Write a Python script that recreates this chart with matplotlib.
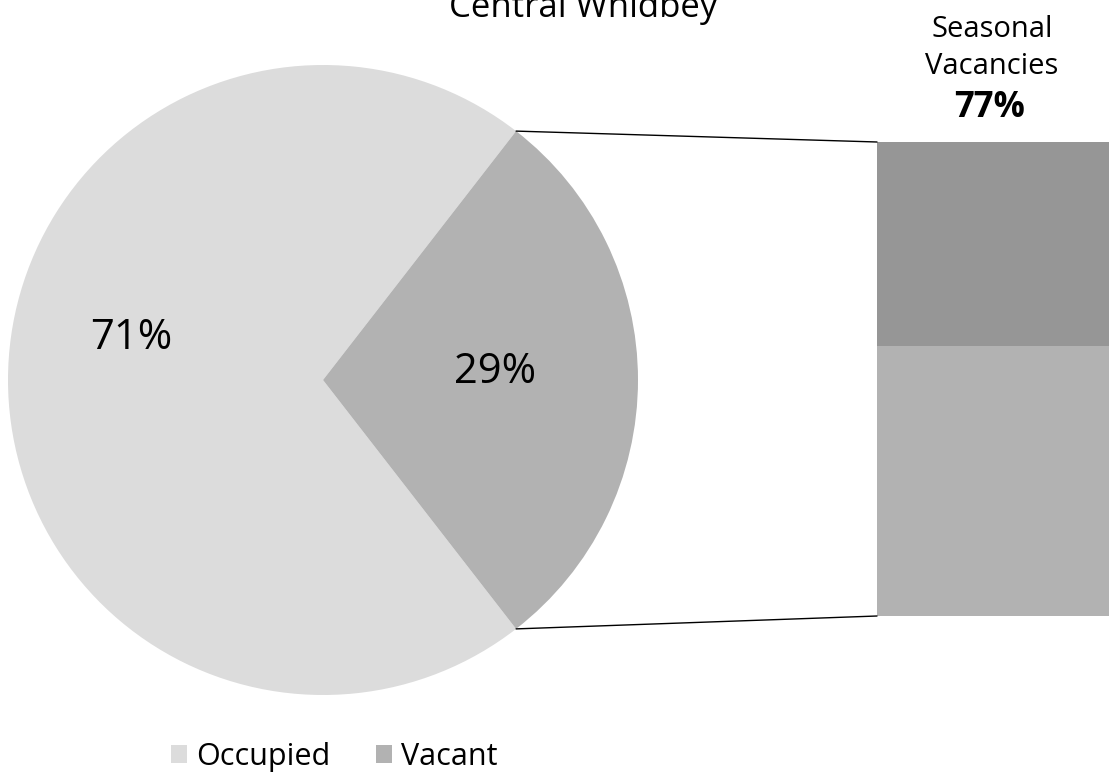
import matplotlib
matplotlib.use("Agg")
import matplotlib.pyplot as plt
from matplotlib.patches import ConnectionPatch, Patch
import numpy as np

plt.rcParams['font.family'] = ['Open Sans', 'DejaVu Sans']

# ---- data ----
title = "Central Whidbey"
pie_labels = ["Occupied", "Vacant"]
pie_values = [71, 29]
pie_colors = ["#DCDCDC", "#B2B2B2"]

bar_segments = [57, 43]          # bottom (other vacancies), top (seasonal) as drawn
bar_colors = ["#B2B2B2", "#969696"]
seasonal_text = ["Seasonal", "Vacancies"]
seasonal_pct = "77%"

W, H = 1109, 773
fig = plt.figure(figsize=(W / 100, H / 100), dpi=100)

def px_axes(x0, y0, x1, y1):
    return fig.add_axes([x0 / W, 1 - y1 / H, (x1 - x0) / W, (y1 - y0) / H])

# ---- pie ----
axp = px_axes(8, 65, 638, 695)
total = sum(pie_values)
start = 180 - 180 * pie_values[0] / total
wedges, _ = axp.pie(pie_values, colors=pie_colors, startangle=start,
                    counterclock=True, radius=1,
                    wedgeprops=dict(linewidth=0))
axp.set_xlim(-1, 1)
axp.set_ylim(-1, 1)
axp.set_aspect('equal')
axp.axis('off')

label_pos = [(-0.61, 0.133), (0.546, 0.025)]
for v, (lx, ly) in zip(pie_values, label_pos):
    axp.text(lx, ly, f"{v}%", ha='center', va='center', fontsize=30, color='black')

# ---- bar ----
axb = px_axes(877, 142, 1109, 616)
bottom = 0
for val, c in zip(bar_segments, bar_colors):
    axb.bar(0, val, width=1, bottom=bottom, color=c, linewidth=0)
    bottom += val
axb.set_xlim(-0.5, 0.5)
axb.set_ylim(0, sum(bar_segments))
axb.axis('off')

# ---- connecting lines ----
vac = wedges[1]
for ang, yb in [(vac.theta2, sum(bar_segments)), (vac.theta1, 0)]:
    a = np.deg2rad(ang)
    con = ConnectionPatch(xyA=(np.cos(a), np.sin(a)), coordsA=axp.transData,
                          xyB=(-0.5, yb), coordsB=axb.transData,
                          color='black', linewidth=1.0)
    fig.add_artist(con)

# ---- texts ----
fig.text(583 / W, 1 - 17 / H, title, ha='center', va='baseline', fontsize=25)
fig.text(992 / W, 1 - 37 / H, seasonal_text[0], ha='center', va='baseline', fontsize=21)
fig.text(992 / W, 1 - 74 / H, seasonal_text[1], ha='center', va='baseline', fontsize=21)
fig.text(990 / W, 1 - 117 / H, seasonal_pct, ha='center', va='baseline',
         fontsize=25, fontweight='bold')

# ---- legend ----
handles = [Patch(facecolor=c, edgecolor='none') for c in pie_colors]
fig.legend(handles, pie_labels, loc='center left', bbox_to_anchor=(171 / W, 1 - 757 / H),
           ncol=2, frameon=False, fontsize=22, handlelength=0.52, handleheight=0.52,
           handletextpad=0.3, columnspacing=1.5, borderaxespad=0, borderpad=0)

fig.savefig("out.png", dpi=100)
